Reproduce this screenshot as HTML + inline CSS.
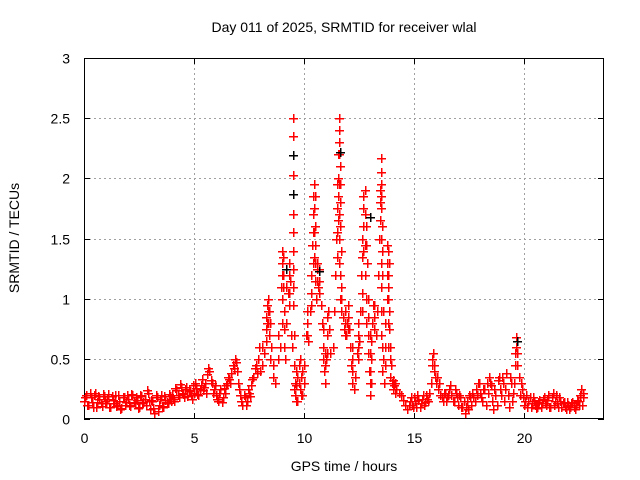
<!DOCTYPE html>
<html><head><meta charset="utf-8"><style>
body{margin:0;background:#fff;}
svg{display:block;font-family:"Liberation Sans",sans-serif;}
</style></head><body>
<svg id="chart" width="640" height="480" viewBox="0 0 640 480" shape-rendering="crispEdges">
<rect width="640" height="480" fill="#fff"/>
<text x="344" y="32" font-size="14" text-anchor="middle" shape-rendering="auto">Day 011 of 2025, SRMTID for receiver wlal</text>
<g id="grid"></g>
<g id="axes"></g>
<g id="marks"></g>
<text x="344" y="471" font-size="14" text-anchor="middle">GPS time / hours</text>
<text x="19" y="238" font-size="14" text-anchor="middle" transform="rotate(-90 19 238)">SRMTID / TECUs</text>
</svg>
<script>
const xTicks=[0,5,10,15,20];
const yTicks=[0,0.5,1,1.5,2,2.5,3];
const yTickLabels=["0","0.5","1","1.5","2","2.5","3"];
const hours=[
0,0.1,0.2,0.3,0.4,0.5,0.6,0.7,0.8,0.9,
1,1.1,1.2,1.3,1.4,1.5,1.6,1.7,1.8,1.9,
2,2.1,2.2,2.3,2.4,2.5,2.6,2.7,2.8,2.9,
3,3.1,3.2,3.3,3.4,3.5,3.6,3.7,3.8,3.9,
4,4.1,4.2,4.3,4.4,4.5,4.6,4.7,4.8,4.9,
5,5.1,5.2,5.3,5.4,5.5,5.6,5.7,5.8,5.9,
6,6.1,6.2,6.3,6.4,6.5,6.6,6.7,6.8,6.9,
7,7.1,7.2,7.3,7.4,7.5,7.6,7.7,7.8,7.9,
8,8.1,8.1,8.2,8.3,8.3,8.35,8.4,8.4,8.5,
8.6,8.6,8.7,8.8,8.8,8.9,8.95,9,9,9.05,
9.1,9.1,9.15,9.2,9.2,9.25,9.3,9.3,9.35,9.4,
9.45,9.5,9.5,9.5,9.5,9.5,9.55,9.6,9.6,9.7,
9.7,9.8,9.8,9.9,9.9,10,10,10.1,10.15,10.2,
10.25,10.3,10.35,10.4,10.45,10.5,10.5,10.55,10.6,10.65,
10.7,10.75,10.8,10.85,10.9,10.95,11,11.05,11.1,11.15,
11.2,11.3,11.35,11.4,11.45,11.5,11.55,11.6,11.6,11.65,
11.65,11.7,11.7,11.75,11.8,11.85,11.9,11.95,12,12.05,
12.1,12.15,12.2,12.25,12.3,12.4,12.45,12.5,12.55,12.6,
12.65,12.7,12.75,12.8,12.85,12.9,12.9,12.95,13,13.05,
13.1,13.15,13.2,13.25,13.3,13.35,13.4,13.45,13.5,13.5,
13.55,13.6,13.6,13.65,13.7,13.75,13.8,13.8,13.85,13.9,
13.95,14,14.1,14.2,14.3,14.4,14.5,14.6,14.7,
14.8,14.9,15,15.1,15.2,15.3,15.4,15.5,15.6,15.7,
15.8,15.85,15.9,15.95,16,16.1,16.2,16.3,16.4,16.5,
16.6,16.7,16.8,16.9,17,17.1,17.2,17.3,17.4,17.5,
17.6,17.7,17.8,17.9,18,18.1,18.2,18.3,18.4,18.5,
18.6,18.7,18.8,18.9,19,19.1,19.2,19.3,19.4,19.5,
19.6,19.65,19.7,19.75,19.8,19.9,20,20.1,20.2,20.3,
20.4,20.5,20.6,20.7,20.8,20.9,21,21.1,21.2,21.3,
21.4,21.5,21.6,21.7,21.8,21.9,22,22.1,22.2,22.3,
22.4,22.5,22.6,22.7
];
const srmtid=[
0.15,0.2,0.12,0.18,0.1,0.22,0.14,0.17,0.11,0.19,
0.13,0.21,0.1,0.16,0.2,0.12,0.15,0.09,0.18,0.14,
0.17,0.11,0.2,0.13,0.16,0.1,0.19,0.14,0.12,0.22,
0.08,0.15,0.05,0.18,0.12,0.2,0.1,0.16,0.13,0.19,
0.2,0.15,0.24,0.18,0.27,0.21,0.25,0.19,0.23,0.17,
0.22,0.26,0.2,0.28,0.24,0.3,0.37,0.4,0.3,0.25,
0.2,0.15,0.25,0.18,0.22,0.3,0.33,0.38,0.42,0.47,
0.3,0.2,0.12,0.18,0.15,0.22,0.28,0.35,0.45,0.5,
0.4,0.6,0.45,0.55,0.8,0.95,1.0,0.9,0.7,0.6,
0.35,0.45,0.3,0.5,0.7,0.6,1.1,1.3,1.4,1.2,
0.9,0.6,0.5,1.1,0.8,1.05,1.2,0.95,1.15,0.7,
0.6,2.5,2.19,1.87,1.55,1.25,0.45,0.3,0.2,0.35,
0.15,0.5,0.25,0.4,0.2,0.3,0.45,0.7,0.8,0.65,
0.9,1.2,1.45,1.7,1.95,1.6,1.3,1.0,1.25,1.1,
1.25,0.95,0.8,0.6,0.4,0.3,0.5,0.7,0.9,0.75,
0.55,0.6,0.9,1.2,1.5,1.75,2.0,2.5,2.3,2.1,
1.8,1.4,1.1,0.85,0.75,0.9,0.7,0.8,0.95,0.75,
0.6,0.45,0.3,0.25,0.35,0.55,0.7,0.65,0.9,1.2,
1.5,1.75,1.9,1.6,1.3,1.0,0.7,0.4,0.2,0.5,
0.8,0.95,0.85,0.7,0.9,1.2,1.5,1.8,2.17,1.95,
1.6,0.9,0.5,0.3,0.6,1.0,1.4,1.2,0.9,0.6,
0.45,0.3,0.28,0.25,0.22,0.2,0.16,0.12,0.08,
0.15,0.12,0.18,0.1,0.16,0.13,0.2,0.14,0.17,0.22,
0.45,0.55,0.4,0.35,0.3,0.25,0.2,0.15,0.22,0.18,
0.25,0.2,0.15,0.22,0.12,0.18,0.1,0.05,0.15,0.2,
0.12,0.18,0.25,0.3,0.22,0.15,0.25,0.3,0.35,0.28,
0.08,0.2,0.32,0.25,0.35,0.15,0.38,0.1,0.3,0.22,
0.45,0.68,0.55,0.35,0.2,0.25,0.12,0.2,0.15,0.1,
0.18,0.12,0.1,0.16,0.13,0.18,0.12,0.2,0.1,0.22,
0.15,0.13,0.18,0.1,0.14,0.08,0.12,0.1,0.14,0.08,
0.16,0.12,0.25,0.18
];
// values at the half-steps 0.05 .. 7.95 h (each sits 0.05 h after hours[i])
const midSrmtid=[
0.18,0.12,0.22,0.14,0.2,0.1,0.19,0.13,0.21,0.15,
0.17,0.1,0.19,0.13,0.11,0.2,0.08,0.18,0.12,0.2,
0.12,0.21,0.14,0.18,0.09,0.2,0.13,0.17,0.24,0.15,
0.16,0.09,0.2,0.07,0.17,0.11,0.19,0.14,0.21,0.15,
0.17,0.26,0.2,0.29,0.22,0.18,0.27,0.24,0.2,0.28,
0.3,0.21,0.25,0.33,0.27,0.22,0.42,0.32,0.22,0.28,
0.17,0.22,0.14,0.26,0.28,0.35,0.3,0.45,0.5,0.4,
0.25,0.15,0.2,0.12,0.25,0.19,0.33,0.42,0.38,0.6
];
const stackHours=[8.25,8.35,8.45,9.0,9.05,9.1,9.3,9.5,9.55,9.65,9.75,9.85,10.15,10.3,10.4,10.45,10.5,10.6,10.7,10.85,10.95,11.05,11.5,11.55,11.6,11.65,11.7,11.85,12.0,12.2,12.45,12.65,12.7,12.75,12.8,12.9,13.0,13.05,13.2,13.45,13.5,13.55,13.7,13.75,13.8,13.85,13.9,14.05,14.15];
const stackValues=[[0.65,0.75,0.85],[0.9,0.8],[0.8,0.5],[1.2,1.0,0.8],[1.35,1.1],[0.75],[1.05,1.3],[2.35,2.03,1.7,1.4,1.1,0.95],[0.7,0.25],[0.4,0.28,0.15],[0.45,0.3],[0.35,0.2],[0.7,0.9],[0.95,1.05],[1.3,1.55,1.85],[1.75,1.55,1.35],[1.85,1.45,1.15],[1.15,1.3],[1.15,1.05],[0.75,0.5],[0.45,0.55],[0.55,0.85],[1.35,1.55,1.95],[1.65,1.85,2.2],[2.4,2.2,1.95,1.7,1.5,1.3],[1.95,1.6,1.2,1.0],[0.9,1.0],[0.8,0.7],[0.85,0.75],[0.4,0.5,0.6],[0.6,0.5,0.8],[1.35,1.05,0.9],[1.6,1.4,1.85],[1.7,1.45,1.2],[1.45,1.0,0.8],[0.85,0.55],[0.3,0.4,0.55,0.7],[0.65,0.3],[0.95,0.75],[1.65,1.9],[2.05,1.85,1.75,1.5,1.3,1.1,0.9,0.7],[1.4,1.2,0.6,0.4],[0.45,0.8],[1.2,1.3,1.45],[1.1,1.0,0.8,0.6],[1.3,0.75],[0.5,0.35],[0.32,0.25],[0.3,0.22]];
const tailHours=[14.75,14.85,14.95,15.05,15.15,15.25,15.35,15.45,15.55,15.65,15.75,15.8,15.9,16.05,16.15,16.25,16.35,16.45,16.55,16.65,16.75,16.85,16.95,17.05,17.15,17.25,17.35,17.45,17.55,17.65,17.75,17.85,17.95,18.05,18.15,18.25,18.35,18.45,18.55,18.65,18.75,18.85,18.95,19.05,19.15,19.25,19.35,19.45,19.55,19.6,19.65,19.7,19.85,19.95,20.05,20.15,20.25,20.35,20.45,20.55,20.65,20.75,20.85,20.95,21.05,21.15,21.25,21.35,21.45,21.55,21.65,21.75,21.85,21.95,22.05,22.15,22.25,22.35,22.45,22.55,22.65,22.7];
const tailSrmtid=[0.12,0.18,0.1,0.15,0.2,0.1,0.17,0.12,0.2,0.15,0.3,0.5,0.45,0.35,0.3,0.18,0.22,0.15,0.2,0.28,0.15,0.25,0.18,0.2,0.1,0.15,0.1,0.08,0.18,0.22,0.15,0.2,0.3,0.18,0.25,0.12,0.22,0.3,0.15,0.25,0.12,0.35,0.2,0.3,0.25,0.2,0.35,0.15,0.3,0.55,0.6,0.45,0.3,0.18,0.15,0.1,0.18,0.13,0.15,0.09,0.14,0.1,0.17,0.13,0.16,0.1,0.18,0.12,0.2,0.1,0.15,0.13,0.1,0.14,0.08,0.13,0.1,0.12,0.15,0.2,0.12,0.22];
const blackHours=[9.5,9.5,9.2,10.7,11.65,13.0,19.7];
const blackSrmtid=[2.19,1.87,1.25,1.23,2.22,1.68,0.65];

const NS="http://www.w3.org/2000/svg";
const L=84,R=604,T=58,B=419;
function xs(h){return L+h*22;}
function ys(v){return B-v*(B-T)/3;}
function mk(tag,attrs,parent){const e=document.createElementNS(NS,tag);for(const k in attrs)e.setAttribute(k,attrs[k]);parent.appendChild(e);return e;}
const grid=document.getElementById('grid'),axes=document.getElementById('axes'),marks=document.getElementById('marks');
xTicks.forEach((t)=>{
  const x=Math.round(xs(t))+0.5;
  if(t>0){const g=mk('line',{x1:x,y1:T,x2:x,y2:B,stroke:'#a0a0a0','stroke-dasharray':'2,3','stroke-width':1},grid);
  
  }
  mk('line',{x1:x,y1:B,x2:x,y2:B-6,stroke:'#000'},axes);
  mk('line',{x1:x,y1:T,x2:x,y2:T+6,stroke:'#000'},axes);
  const tx=mk('text',{x:x,y:B+24,'font-size':14,'text-anchor':'middle'},axes);
  tx.textContent=String(t);
  
  
});
yTicks.forEach((t,i)=>{
  const y=Math.round(ys(t))+0.5;
  if(t>0&&t<3){const g=mk('line',{x1:L,y1:y,x2:R,y2:y,stroke:'#a0a0a0','stroke-dasharray':'2,3','stroke-width':1},grid);
  
  }
  mk('line',{x1:L,y1:y,x2:L+6,y2:y,stroke:'#000'},axes);
  mk('line',{x1:R,y1:y,x2:R-6,y2:y,stroke:'#000'},axes);
  const tx=mk('text',{x:L-14,y:y+5,'font-size':14,'text-anchor':'end'},axes);
  tx.textContent=yTickLabels[i];
  
  
});
const frame=mk('rect',{x:L+0.5,y:T+0.5,width:R-L-1,height:B-T-1,fill:'none',stroke:'#000'},axes);


function plus(h,v,color,name){
  const x=Math.round(xs(h)),y=Math.round(ys(v));
  const g=mk('g',{fill:color},marks);
  
  
  mk('rect',{x:x-4,y:y,width:9,height:1.4},g);
  mk('rect',{x:x,y:y-4,width:1.4,height:9},g);
}
for(let i=0;i<hours.length;i++)plus(hours[i],srmtid[i],'#ff0000','srmtid-point');
for(let i=0;i<midSrmtid.length;i++)plus(hours[i]+0.05,midSrmtid[i],'#ff0000','srmtid-point');
for(let i=0;i<stackHours.length;i++)stackValues[i].forEach(v=>plus(stackHours[i],v,'#ff0000','srmtid-point'));
for(let i=0;i<tailHours.length;i++)plus(tailHours[i],tailSrmtid[i],'#ff0000','srmtid-point');
for(let i=0;i<blackHours.length;i++)plus(blackHours[i],blackSrmtid[i],'#000000','srmtid-point-black');
</script>
</body></html>
